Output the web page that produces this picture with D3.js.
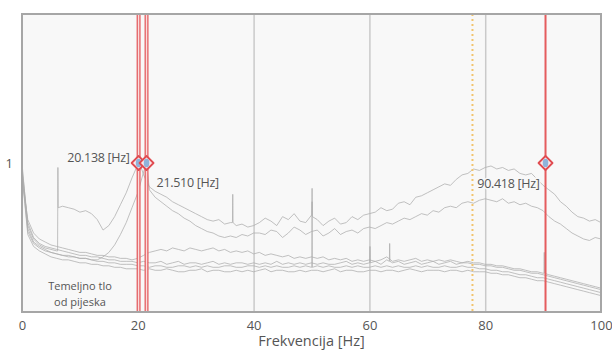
<!DOCTYPE html>
<html>
<head>
<meta charset="utf-8">
<script src="https://cdn.jsdelivr.net/npm/d3@7"></script>
<style>
  body { margin: 0; background: #fff; }
  text { font-family: "Open Sans", sans-serif; fill: #555; }
</style>
</head>
<body>
<div id="chart"></div>
<script>
/* Data */
var freqs = [0,1,2,3,4,5,6,7,8,9,10,11,12,13,14,15,16,17,18,19,20,21,22,23,24,25,26,27,28,29,30,
  31,32,33,34,35,36,37,38,39,40,41,42,43,44,45,46,47,48,49,50,51,52,53,54,55,56,57,58,59,60,
  61,62,63,64,65,66,67,68,69,70,71,72,73,74,75,76,77,78,79,80,81,82,83,84,85,86,87,88,89,90,
  91,92,93,94,95,96,97,98,99,100];

var base1 = [0.92,0.52,0.44,0.41,0.39,0.37,0.36,0.35,0.35,0.34,0.33,
  0.33,0.32,0.32,0.31,0.31,0.30,0.30,0.29,0.29,0.29,
  0.28,0.29,0.28,0.28,0.29,0.28,0.27,0.27,0.28,0.28,
  0.29,0.27,0.28,0.28,0.27,0.27,0.28,0.27,0.28,0.27,
  0.28,0.29,0.27,0.28,0.28,0.27,0.27,0.28,0.27,0.28,
  0.28,0.27,0.28,0.29,0.27,0.28,0.28,0.27,0.27,0.28,
  0.28,0.27,0.28,0.28,0.27,0.28,0.29,0.28,0.27,0.28,
  0.28,0.28,0.27,0.28,0.28,0.27,0.28,0.27,0.27,0.27,
  0.26,0.26,0.25,0.25,0.24,0.23,0.23,0.22,0.21,0.21,
  0.20,0.19,0.18,0.17,0.16,0.15,0.14,0.13,0.12,0.11];

var base2 = [1.00,0.56,0.47,0.44,0.42,0.40,0.39,0.38,0.38,0.37,0.36,
  0.36,0.35,0.34,0.34,0.33,0.33,0.32,0.32,0.32,0.31,
  0.31,0.30,0.31,0.31,0.30,0.30,0.31,0.31,0.30,0.31,
  0.30,0.31,0.30,0.30,0.31,0.31,0.30,0.30,0.31,0.31,
  0.30,0.31,0.30,0.31,0.30,0.30,0.31,0.30,0.31,0.30,
  0.31,0.30,0.31,0.30,0.30,0.31,0.30,0.31,0.30,0.30,
  0.31,0.30,0.31,0.30,0.31,0.30,0.30,0.31,0.30,0.31,
  0.30,0.30,0.31,0.30,0.30,0.31,0.30,0.30,0.29,0.29,
  0.28,0.28,0.27,0.27,0.26,0.25,0.25,0.24,0.23,0.23,
  0.22,0.21,0.20,0.19,0.18,0.17,0.16,0.15,0.14,0.13];

var base3 = [0.97,0.60,0.50,0.46,0.44,0.43,0.42,0.41,0.40,0.39,0.38,
  0.38,0.37,0.37,0.36,0.35,0.35,0.34,0.34,0.34,0.33,
  0.34,0.33,0.33,0.34,0.32,0.33,0.34,0.32,0.33,0.33,
  0.32,0.33,0.34,0.32,0.33,0.32,0.33,0.33,0.32,0.33,
  0.32,0.33,0.32,0.34,0.32,0.33,0.32,0.33,0.32,0.33,
  0.32,0.33,0.32,0.32,0.33,0.34,0.32,0.33,0.32,0.33,
  0.34,0.32,0.35,0.33,0.34,0.32,0.33,0.34,0.32,0.33,
  0.34,0.32,0.33,0.34,0.32,0.33,0.33,0.32,0.32,0.31,
  0.31,0.30,0.30,0.29,0.28,0.28,0.27,0.26,0.26,0.25,
  0.24,0.23,0.22,0.21,0.20,0.19,0.18,0.17,0.16,0.15];

var base4 = [0.90,0.62,0.53,0.49,0.47,0.45,0.44,0.43,0.42,0.41,0.40,
  0.40,0.39,0.38,0.38,0.37,0.37,0.36,0.36,0.35,0.36,
  0.38,0.40,0.41,0.42,0.41,0.43,0.42,0.41,0.43,0.42,
  0.41,0.42,0.43,0.41,0.42,0.40,0.41,0.40,0.41,0.39,
  0.40,0.38,0.39,0.38,0.37,0.38,0.36,0.37,0.36,0.37,
  0.36,0.37,0.35,0.36,0.35,0.36,0.34,0.35,0.34,0.35,
  0.34,0.35,0.37,0.34,0.35,0.34,0.35,0.36,0.34,0.35,
  0.34,0.35,0.34,0.35,0.34,0.33,0.34,0.33,0.33,0.32,
  0.32,0.31,0.31,0.30,0.29,0.29,0.28,0.27,0.27,0.26,
  0.25,0.24,0.23,0.22,0.21,0.20,0.19,0.18,0.17,0.16];

var peakA = [0.95,0.58,0.49,0.45,0.43,0.42,0.41,0.71,0.70,0.69,0.67,
  0.68,0.66,0.62,0.55,0.58,0.64,0.72,0.80,0.90,0.99,
  0.92,0.84,0.81,0.79,0.77,0.74,0.72,0.70,0.68,0.66,
  0.64,0.62,0.61,0.62,0.59,0.60,0.58,0.59,0.57,0.58,
  0.60,0.63,0.61,0.58,0.64,0.62,0.66,0.61,0.60,0.65,
  0.62,0.58,0.61,0.63,0.59,0.60,0.64,0.62,0.65,0.66,
  0.67,0.70,0.68,0.69,0.73,0.74,0.72,0.77,0.78,0.80,
  0.82,0.84,0.86,0.85,0.89,0.92,0.93,0.96,0.95,0.97,
  0.98,0.96,0.97,0.95,0.96,0.93,0.92,0.93,0.89,0.85,
  0.82,0.79,0.74,0.71,0.67,0.64,0.63,0.61,0.62,0.60];

var peakC = [0.93,0.54,0.46,0.43,0.41,0.40,0.39,0.38,0.37,0.37,0.36,
  0.36,0.35,0.35,0.37,0.40,0.45,0.52,0.60,0.70,0.80,
  0.94,0.82,0.77,0.74,0.71,0.68,0.66,0.63,0.61,0.58,
  0.56,0.54,0.53,0.51,0.50,0.51,0.50,0.52,0.51,0.53,
  0.53,0.52,0.55,0.54,0.50,0.53,0.57,0.55,0.52,0.54,
  0.55,0.51,0.53,0.56,0.52,0.54,0.55,0.53,0.56,0.57,
  0.56,0.58,0.60,0.59,0.61,0.63,0.62,0.64,0.66,0.65,
  0.68,0.67,0.70,0.71,0.70,0.73,0.74,0.73,0.75,0.76,
  0.75,0.74,0.76,0.73,0.74,0.72,0.73,0.71,0.70,0.68,
  0.64,0.61,0.59,0.56,0.53,0.51,0.49,0.48,0.50,0.49];

/* narrow peaks / spikes as [freq, value] */
var spikesA = [[6.15,0.41],[6.2,0.97],[6.25,0.70],[20.14,1.02],[36.35,0.60],[36.4,0.79],[36.45,0.60],
  [50.05,0.65],[50.1,0.83],[50.15,0.64]];
var spikesC = [[21.5,1.0]];
var spikes1 = [];
var spikes2 = [[50.05,0.30],[50.1,0.74],[50.15,0.30]];
var spikes3 = [[60.05,0.33],[60.1,0.44],[60.15,0.33],[63.45,0.34],[63.5,0.46],[63.55,0.34]];
var spikes4 = [[90.15,0.26],[90.2,0.40],[90.25,0.26]];

var markerFreqs = [20.138, 21.510, 90.418];
var markerLabels = ["20.138 [Hz]", "21.510 [Hz]", "90.418 [Hz]"];
var markerValue = 1;
var refFreq = 77.8;

var xTicks = [0, 20, 40, 60, 80, 100];
var gridTicks = [20, 40, 60, 80];
var yTicks = [1];
var xTitle = "Frekvencija [Hz]";
var noteLines = ["Temeljno tlo", "od pijeska"];

/* Build series */
function build(vals, spikes) {
  var pts = freqs.map(function(f, i) { return [f, vals[i]]; });
  return pts.concat(spikes).sort(function(a, b) { return a[0] - b[0]; });
}
var series = [
  build(base1, spikes1),
  build(base2, spikes2),
  build(base3, spikes3),
  build(base4, spikes4),
  build(peakC, spikesC),
  build(peakA, spikesA)
];

var W = 612, H = 350;
var margin = {left: 22, top: 14, right: 11, bottom: 38};
var width = W - margin.left - margin.right;
var height = H - margin.top - margin.bottom;

var x = d3.scaleLinear().domain([0, 100]).range([0, width]);
var y = d3.scaleLinear().domain([0, 2]).range([height, 0]);

var svg = d3.select("#chart").append("svg")
  .attr("width", W)
  .attr("height", H)
  .append("g")
  .attr("transform", "translate(" + margin.left + "," + margin.top + ")");

svg.append("rect")
  .attr("width", width)
  .attr("height", height)
  .attr("fill", "#f8f8f8");

// vertical gridlines
svg.append("g")
  .attr("transform", "translate(0," + height + ")")
  .call(d3.axisBottom(x).tickValues(gridTicks).tickSize(-height).tickFormat(""))
  .call(function(g) { g.select(".domain").remove(); })
  .selectAll("line")
  .attr("stroke", "#cacaca")
  .attr("stroke-width", 1.5);

/* curves */
var line = d3.line()
  .x(function(d) { return x(d[0]); })
  .y(function(d) { return y(d[1]); });

svg.append("g")
  .selectAll("path")
  .data(series).enter()
  .append("path")
  .attr("d", line)
  .attr("fill", "none")
  .attr("stroke", "#adadad")
  .attr("stroke-opacity", 0.85)
  .attr("stroke-width", 0.9)
  .attr("stroke-linejoin", "round");

// dotted reference line
svg.append("line")
  .attr("x1", x(refFreq)).attr("x2", x(refFreq))
  .attr("y1", 0).attr("y2", height)
  .attr("stroke", "#f2c46d")
  .attr("stroke-width", 2)
  .attr("stroke-dasharray", "2,3");

/* red marker lines */
var mk = svg.append("g");
markerFreqs.forEach(function(f, i) {
  if (i < 2) {
    mk.append("line")
      .attr("x1", x(f)).attr("x2", x(f)).attr("y1", 0).attr("y2", height)
      .attr("stroke", "#e45f62").attr("stroke-width", 4);
    mk.append("line")
      .attr("x1", x(f)).attr("x2", x(f)).attr("y1", 0).attr("y2", height)
      .attr("stroke", "#fadcdc").attr("stroke-width", 1.4);
  } else {
    mk.append("line")
      .attr("x1", x(f)).attr("x2", x(f)).attr("y1", 0).attr("y2", height)
      .attr("stroke", "#e55c5e").attr("stroke-width", 2);
  }
});

// plot border
svg.append("rect")
  .attr("width", width)
  .attr("height", height)
  .attr("fill", "none")
  .attr("stroke", "#a6a6a6")
  .attr("stroke-width", 2);

// diamonds
markerFreqs.forEach(function(f) {
  var cx = x(f), cy = y(markerValue);
  mk.append("path")
    .attr("d", "M" + (cx - 7) + "," + cy + "L" + cx + "," + (cy - 7) + "L" + (cx + 7) + "," + cy + "L" + cx + "," + (cy + 7) + "Z")
    .attr("fill", "#fbe8e9")
    .attr("stroke", "#e04b50")
    .attr("stroke-width", 1.8)
    .attr("stroke-linejoin", "round");
  mk.append("ellipse")
    .attr("cx", cx).attr("cy", cy)
    .attr("rx", 2.8).attr("ry", 4.2)
    .attr("fill", "#8fb3da");
});

// marker labels
var labelPos = [
  {dx: -9, dy: -1, anchor: "end"},
  {dx: 10, dy: 24, anchor: "start"},
  {dx: -6, dy: 25, anchor: "end"}
];
markerLabels.forEach(function(t, i) {
  svg.append("text")
    .attr("x", x(markerFreqs[i]) + labelPos[i].dx)
    .attr("y", y(markerValue) + labelPos[i].dy)
    .attr("text-anchor", labelPos[i].anchor)
    .style("font-size", "12.5px")
    .style("letter-spacing", "-0.3px")
    .style("paint-order", "stroke")
    .style("stroke", "#f8f8f8")
    .style("stroke-width", 3)
    .text(t);
});

// note text
svg.append("g")
  .selectAll("text")
  .data(noteLines).enter()
  .append("text")
  .attr("x", 58)
  .attr("y", function(d, i) { return 276 + i * 16; })
  .attr("text-anchor", "middle")
  .style("font-size", "11px")
  .text(function(d) { return d; });

/* axes */
svg.append("g")
  .attr("transform", "translate(0," + height + ")")
  .call(d3.axisBottom(x).tickValues(xTicks).tickSize(0).tickPadding(9))
  .call(function(g) { g.select(".domain").remove(); })
  .selectAll("text")
  .style("font-size", "13px")
  .attr("fill", "#555");

svg.append("g")
  .call(d3.axisLeft(y).tickValues(yTicks).tickSize(0).tickPadding(9).tickFormat(d3.format("d")))
  .call(function(g) { g.select(".domain").remove(); })
  .selectAll("text")
  .style("font-size", "13px")
  .attr("fill", "#555");

svg.append("text")
  .attr("x", width / 2)
  .attr("y", height + 34)
  .attr("text-anchor", "middle")
  .style("font-size", "14.5px")
  .text(xTitle);
</script>
</body>
</html>
